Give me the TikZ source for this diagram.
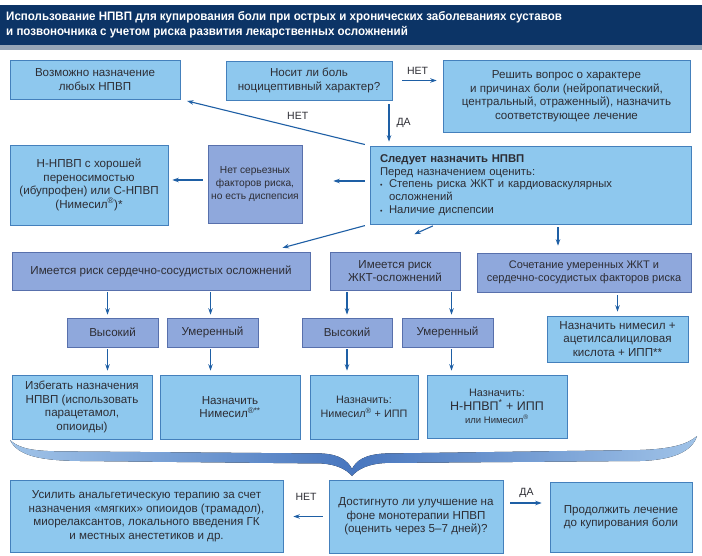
\documentclass[tikz,border=0pt]{standalone}
\usepackage{fontspec}
\setmainfont{Liberation Sans}
\newfontfamily\titlefont[FakeStretch=0.94]{Liberation Sans}
\usetikzlibrary{arrows.meta}

\definecolor{navy}{RGB}{12,52,102}
\definecolor{navyline}{RGB}{150,165,182}
\definecolor{boxfill}{RGB}{142,200,238}
\definecolor{boxline}{RGB}{68,128,188}
\definecolor{pfill}{RGB}{143,168,220}
\definecolor{pline}{RGB}{88,112,172}
\definecolor{arrcol}{RGB}{30,95,165}
\definecolor{txt}{RGB}{45,45,52}
\definecolor{bracelight}{RGB}{160,195,232}
\definecolor{bracedark}{RGB}{72,118,190}

\tikzset{
  box/.style={draw=boxline, fill=boxfill, line width=0.6pt, align=center,
    inner sep=2pt, text=txt, font=\fontsize{11.6}{13.5}\selectfont},
  pbox/.style={box, draw=pline, fill=pfill},
  arr/.style={draw=arrcol, line width=1.1pt, -{Stealth[length=6.5pt,width=4.5pt]}},
  lbl/.style={text=txt, font=\fontsize{10.5}{12}\selectfont, inner sep=1pt},
}

\begin{document}
\begin{tikzpicture}[x=1pt,y=-1pt]
    \useasboundingbox (0,0) rectangle (702,556);
    \fill[white] (0,0) rectangle (702,556);

    %%%%%%%%%% Titolo %%%%%%%%%%
    \fill[navy] (0,5) rectangle (702,45);
    \fill[navyline] (0,45) rectangle (702,50);
    \node[anchor=west, align=left, text=white, inner sep=0pt,
      font=\titlefont\bfseries\fontsize{12.3}{14.5}\selectfont] (title) at (6,25)
      {Использование НПВП для купирования боли при острых и хронических заболеваниях суставов\\
       и позвоночника с учетом риска развития лекарственных осложнений};

    %%%%%%%%%% Nodi %%%%%%%%%%
    \node[box, minimum width=170pt, minimum height=39pt] (any) at (95,79.5)
      {Возможно назначение\\любых НПВП};
    \node[box, minimum width=166pt, minimum height=39pt] (noci) at (309,80.5)
      {Носит ли боль\\ноцицептивный характер?};
    \node[box, minimum width=247pt, minimum height=72pt] (cause) at (566.5,96)
      {Решить вопрос о характере\\и причинах боли (нейропатический,\\центральный, отраженный), назначить\\соответствующее лечение};
    \node[box, minimum width=321pt, minimum height=78pt, text width=301pt, align=left,
      font=\fontsize{11.3}{12.8}\selectfont] (nsaid) at (530.5,185)
      {\textbf{Следует назначить НПВП}\\
       Перед назначением оценить:\\
       \makebox[9pt][l]{\scriptsize•}Степень риска ЖКТ и кардиоваскулярных\\
       \hspace*{9pt}осложнений\\
       \makebox[9pt][l]{\scriptsize•}Наличие диспепсии};
    \node[pbox, minimum width=94pt, minimum height=78pt, font=\fontsize{10.2}{13}\selectfont] (dysp) at (255,184)
      {Нет серьезных\\факторов риска,\\но есть диспепсия};
    \node[box, minimum width=158pt, minimum height=80pt] (good) at (89,185)
      {Н-НПВП с хорошей\\переносимостью\\(ибупрофен) или С-НПВП\\(Нимесил\textsuperscript{®})*};

    \node[pbox, minimum width=298pt, minimum height=38pt] (cvrisk) at (161,271)
      {Имеется риск сердечно-сосудистых осложнений};
    \node[pbox, minimum width=130pt, minimum height=38pt] (girisk) at (395,271)
      {Имеется риск\\ЖКТ-осложнений};
    \node[pbox, minimum width=214pt, minimum height=39pt, font=\fontsize{11}{13.5}\selectfont] (both) at (584,272.5)
      {Сочетание умеренных ЖКТ и\\сердечно-сосудистых факторов риска};

    \node[pbox, minimum width=91pt, minimum height=29pt] (cvhigh) at (112.5,332.5) {Высокий};
    \node[pbox, minimum width=91pt, minimum height=29pt] (cvmod) at (212.5,332.5) {Умеренный};
    \node[pbox, minimum width=90pt, minimum height=29pt] (gihigh) at (347,332.5) {Высокий};
    \node[pbox, minimum width=91pt, minimum height=29pt] (gimod) at (447.5,332.5) {Умеренный};
    \node[box, minimum width=141pt, minimum height=46pt] (aspirin) at (617.5,339)
      {Назначить нимесил +\\ацетилсалициловая\\кислота + ИПП**};

    \node[box, minimum width=140pt, minimum height=64pt] (avoid) at (82,407)
      {Избегать назначения\\НПВП (использовать\\парацетамол,\\опиоиды)};
    \node[box, minimum width=140pt, minimum height=64pt] (nimes) at (230,407)
      {Назначить\\Нимесил\textsuperscript{®**}};
    \node[box, minimum width=108pt, minimum height=64pt, font=\fontsize{10.8}{13.5}\selectfont] (nimppi) at (364,407)
      {Назначить:\\Нимесил\textsuperscript{®} + ИПП};
    \node[box, minimum width=140pt, minimum height=63pt, font=\fontsize{10.8}{13.5}\selectfont] (nppi) at (497,406.5)
      {Назначить:\\{\fontsize{12.5}{14}\selectfont Н-НПВП\textsuperscript{*} + ИПП}\\{\fontsize{9.5}{12}\selectfont или Нимесил\textsuperscript{®}}};

    \node[box, minimum width=273pt, minimum height=72pt] (opioid) at (146.5,516)
      {Усилить анальгетическую терапию за счет\\назначения «мягких» опиоидов (трамадол),\\миорелаксантов, локального введения ГК\\и местных анестетиков и др.};
    \node[box, minimum width=174pt, minimum height=73pt] (better) at (416,516.5)
      {Достигнуто ли улучшение на\\фоне монотерапии НПВП\\(оценить через 5–7 дней)?};
    \node[box, minimum width=142pt, minimum height=70pt] (cont) at (621,517)
      {Продолжить лечение\\до купирования боли};

    %%%%%%%%% Parentesi %%%%%%%%%
    \fill[left color=bracelight, right color=bracelight, middle color=bracedark]
      (10,440) .. controls (22,451) and (40,451.5) .. (80,451.5) -- (322,453.5)
      .. controls (340,454.5) and (348,461) .. (352,469)
      .. controls (356,461) and (364,454.5) .. (385,453.5) -- (640,450)
      .. controls (672,449) and (688,444) .. (697,436)
      .. controls (692,452) and (672,460) .. (640,461) -- (385,463)
      .. controls (368,464) and (358,469) .. (352,476)
      .. controls (346,469) and (336,464.5) .. (322,463.5) -- (80,461)
      .. controls (40,460.5) and (18,456) .. (10,440) -- cycle;

    %%%%%%%%% Frecce %%%%%%%%%
    \draw[arr, shorten <=10pt, shorten >=6pt] (noci.east) -- (noci.east -| cause.west)
      node[lbl, midway, above=4pt] (no1) {НЕТ};
    \draw[arr, shorten <=4pt, shorten >=4pt] ([xshift=80pt]noci.south) -- ([xshift=80pt]noci.south |- nsaid.north)
      node[lbl, midway, right=6pt] (yes1) {ДА};
    \draw[arr, shorten <=5pt, shorten >=7pt] (nsaid.north west) -- (any.south east)
      node[lbl, pos=0.38, above=7pt] (no2) {НЕТ};
    \draw[arr, shorten <=5pt, shorten >=31pt] ([yshift=4pt]nsaid.west) -- ([yshift=4pt]nsaid.west -| dysp.east);
    \draw[arr, shorten <=5pt, shorten >=4pt] ([yshift=4pt]dysp.west) -- ([yshift=4pt]dysp.west -| good.east);
    \draw[arr, shorten <=5pt, shorten >=15pt] (nsaid.south west) -- ([xshift=107pt]cvrisk.north);
    \draw[arr, shorten <=4pt, shorten >=43pt] ([xshift=-94pt]nsaid.south) -- ([xshift=-20pt]girisk.north);
    \draw[arr, shorten <=3pt, shorten >=7pt] ([xshift=-26pt]both.north |- nsaid.south) -- ([xshift=-26pt]both.north);

    \draw[arr, shorten <=2pt, shorten >=3pt] ([xshift=-5pt]cvhigh.north |- cvrisk.south) -- ([xshift=-5pt]cvhigh.north);
    \draw[arr, shorten <=2pt, shorten >=3pt] ([xshift=-2pt]cvmod.north |- cvrisk.south) -- ([xshift=-2pt]cvmod.north);
    \draw[arr, shorten <=2pt, shorten >=3pt] (gihigh.north |- girisk.south) -- (gihigh.north);
    \draw[arr, shorten <=2pt, shorten >=3pt] ([xshift=4pt]gimod.north |- girisk.south) -- ([xshift=4pt]gimod.north);
    \draw[arr, shorten <=3pt, shorten >=4pt] (aspirin.north |- both.south) -- (aspirin.north);

    \draw[arr, shorten <=2pt, shorten >=4pt] ([xshift=-5pt]cvhigh.south) -- ([xshift=-5pt]cvhigh.south |- avoid.north);
    \draw[arr, shorten <=2pt, shorten >=4pt] ([xshift=-2pt]cvmod.south) -- ([xshift=-2pt]cvmod.south |- nimes.north);
    \draw[arr, shorten <=2pt, shorten >=4pt] (gihigh.south) -- (gihigh.south |- nimppi.north);
    \draw[arr, shorten <=2pt, shorten >=4pt] ([xshift=4pt]gimod.south) -- ([xshift=4pt]gimod.south |- nppi.north);

    \draw[arr, shorten <=6pt, shorten >=10pt] (better.west) -- (better.west -| opioid.east)
      node[lbl, midway, above=14pt] (no3) {НЕТ};
    \draw[arr, shorten <=7pt, shorten >=8pt] ([yshift=13.5pt]better.east) -- ([yshift=13.5pt]better.east -| cont.west)
      node[lbl, midway, above=4pt] (yes2) {ДА};
\end{tikzpicture}
\end{document}
